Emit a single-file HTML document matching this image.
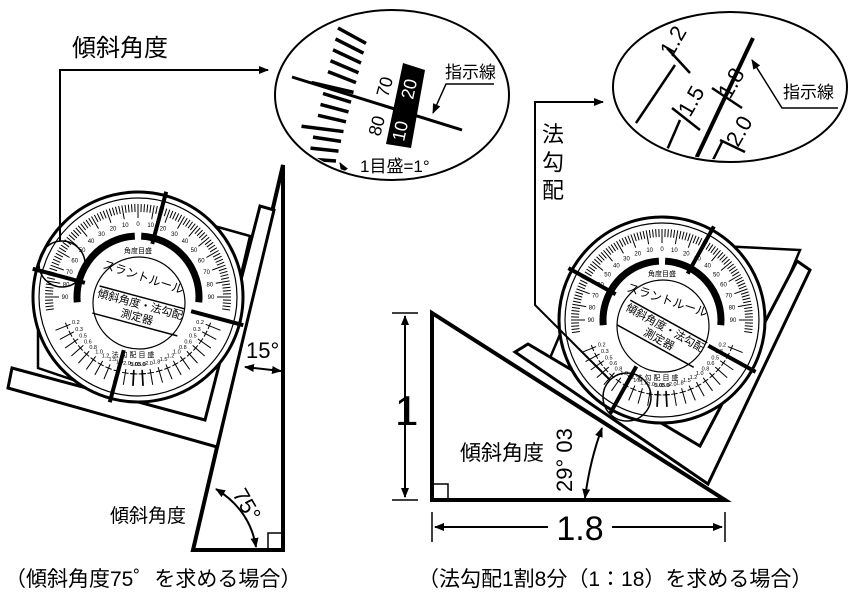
<!DOCTYPE html>
<html><head><meta charset="utf-8"><style>
html,body{margin:0;padding:0;background:#fff;}
svg{display:block;font-family:"Liberation Sans","Noto Sans CJK JP",sans-serif;}
</style></head><body>
<svg id="s" width="850" height="600" viewBox="0 0 850 600" xmlns="http://www.w3.org/2000/svg">
<defs>
<marker id="ar" markerWidth="10" markerHeight="8" refX="9" refY="4" orient="auto" markerUnits="userSpaceOnUse"><path d="M0,0 L10,4 L0,8 z" fill="#000"/></marker>
<marker id="ars" markerWidth="10" markerHeight="8" refX="1" refY="4" orient="auto" markerUnits="userSpaceOnUse"><path d="M10,0 L0,4 L10,8 z" fill="#000"/></marker>
<clipPath id="cl"><ellipse cx="392" cy="95" rx="115" ry="83"/></clipPath>
<clipPath id="cr"><ellipse cx="730" cy="87" rx="115" ry="73"/></clipPath>
</defs>
<g fill="none" stroke="#000" stroke-linejoin="miter">
<text x="72" y="56" font-size="24" fill="#000" stroke="none">傾斜角度</text>
<polygon points="283,165 283,550 193,550" stroke-width="4" fill="#fff"/>
<rect x="268" y="533" width="15" height="17" stroke-width="1.5"/>
<polygon points="38,368 38,320 200,222 250,236 206,425" fill="#fff" stroke-width="2.5"/>
<polygon points="12,368 205,420 260,206 274,210 217,447 8,388" fill="#fff" stroke-width="3"/>
<text x="246" y="358" font-size="22" fill="#000" stroke="none">15°</text>
<line x1="245" y1="367" x2="281" y2="371" stroke-width="2" marker-start="url(#ars)" marker-end="url(#ar)"/>
<path d="M216,489 Q250,510 256,547" stroke-width="2" marker-start="url(#ars)" marker-end="url(#ar)"/>
<text x="0" y="0" font-size="22" fill="#000" stroke="none" transform="translate(232,494) rotate(60)">75°</text>
<text x="110" y="522" font-size="19" fill="#000" stroke="none">傾斜角度</text>
<g id="dl"></g>
<circle cx="62" cy="264" r="23" stroke-width="1.5"/>
<polyline points="60,241 60,70 268,70" stroke-width="2" marker-end="url(#ar)"/>
<ellipse cx="392" cy="95" rx="117" ry="85" stroke-width="2" fill="#fff"/>
<g id="ml" clip-path="url(#cl)"></g>
<polygon points="432,313 432,500 725,500" stroke-width="4" fill="#fff"/>
<rect x="432" y="484" width="16" height="16" stroke-width="1.5"/>
<line x1="392" y1="313" x2="418" y2="313" stroke-width="1.5"/>
<line x1="392" y1="500" x2="418" y2="500" stroke-width="1.5"/>
<line x1="405" y1="316" x2="405" y2="497" stroke-width="2" marker-start="url(#ars)" marker-end="url(#ar)"/>
<text x="395" y="425" font-size="42" fill="#000" stroke="none">1</text>
<line x1="432" y1="512" x2="432" y2="542" stroke-width="1.5"/>
<line x1="725" y1="512" x2="725" y2="542" stroke-width="1.5"/>
<line x1="435" y1="527" x2="548" y2="527" stroke-width="2" marker-start="url(#ars)"/>
<line x1="612" y1="527" x2="722" y2="527" stroke-width="2" marker-end="url(#ar)"/>
<text x="580" y="540" font-size="34" fill="#000" stroke="none" text-anchor="middle">1.8</text>
<text x="460" y="460" font-size="21" fill="#000" stroke="none">傾斜角度</text>
<text x="0" y="0" font-size="22" fill="#000" stroke="none" transform="translate(572,492) rotate(-90)">29° 03</text>
<path d="M602,428 Q590,460 585,498" stroke-width="2" marker-start="url(#ars)" marker-end="url(#ar)"/>
<polygon points="550,358 600,240 800,250 705,478" fill="#fff" stroke-width="2.5"/>
<polygon points="515,352 528,344 700,446 797,261 810,270 708,484" fill="#fff" stroke-width="3"/>
<g id="dr"></g>
<circle cx="627" cy="397" r="24" stroke-width="1.5"/>
<polyline points="610,380 535,305 535,102 603,102" stroke-width="2" marker-end="url(#ar)"/>
<text x="542" y="142" font-size="22" fill="#000" stroke="none">法</text>
<text x="542" y="170" font-size="22" fill="#000" stroke="none">勾</text>
<text x="542" y="198" font-size="22" fill="#000" stroke="none">配</text>
<ellipse cx="730" cy="87" rx="117" ry="75" stroke-width="2" fill="#fff"/>
<g id="mr" clip-path="url(#cr)"></g>
<text x="5" y="586" font-size="21" fill="#000" stroke="none">（傾斜角度75゜を求める場合）</text>
<text x="418" y="586" font-size="21" fill="#000" stroke="none">（法勾配1割8分（1：18）を求める場合）</text>
</g>
<script>
var NS="http://www.w3.org/2000/svg";
function el(p,t,a,txt){var e=document.createElementNS(NS,t);for(var k in a)e.setAttribute(k,a[k]);if(txt!==undefined)e.textContent=txt;p.appendChild(e);return e;}
function pt(cx,cy,r,deg){var a=(deg-90)*Math.PI/180;return [cx+r*Math.cos(a),cy+r*Math.sin(a)];}
function dial(g,cx,cy,R,tilt){
 el(g,"circle",{cx:cx,cy:cy,r:R,fill:"#fff","stroke-width":3});
 el(g,"circle",{cx:cx,cy:cy,r:R-6,"stroke-width":1.2});
 for(var d=-98;d<=98;d+=2){var L=(d%10==0)?14:8;var a=pt(cx,cy,R-12,d),b=pt(cx,cy,R-12-L,d);el(g,"line",{x1:a[0],y1:a[1],x2:b[0],y2:b[1],"stroke-width":1});}
 for(var d=-90;d<=90;d+=10){var p=pt(cx,cy,R-32,d);el(g,"text",{x:p[0],y:p[1]+2,"font-size":6,"text-anchor":"middle",fill:"#000",stroke:"none"},String(Math.abs(d)));}
 function arc(r,a1,a2){var p=pt(cx,cy,r,a1),q=pt(cx,cy,r,a2);return "M"+p[0]+","+p[1]+" A"+r+","+r+" 0 0 1 "+q[0]+","+q[1];}
 el(g,"path",{d:arc(R-44,-95,-3),"stroke-width":7});
 el(g,"path",{d:arc(R-44,3,95),"stroke-width":7});
 el(g,"circle",{cx:cx+1,cy:cy+6,r:46,"stroke-width":1.2});
 el(g,"text",{x:cx,y:cy-44,"font-size":7,"text-anchor":"middle",fill:"#000",stroke:"none"},"角度目盛");
 el(g,"text",{x:0,y:0,"font-size":12,"text-anchor":"middle",fill:"#000",stroke:"none",transform:"translate("+(cx+4)+","+(cy-16)+") rotate(18)"},"スラントルール");
 var t=el(g,"g",{transform:"translate("+(cx+1)+","+(cy+12)+") rotate("+tilt+")"});
 el(t,"line",{x1:-44,y1:-12,x2:44,y2:-12,"stroke-width":1.5});
 el(t,"line",{x1:-44,y1:16,x2:44,y2:16,"stroke-width":1.5});
 el(t,"text",{x:0,y:-1,"font-size":11,"text-anchor":"middle",fill:"#000",stroke:"none"},"傾斜角度・法勾配");
 el(t,"text",{x:0,y:12,"font-size":11,"text-anchor":"middle",fill:"#000",stroke:"none"},"測定器");
 el(g,"text",{x:cx-5,y:cy+60,"font-size":7,"text-anchor":"middle",fill:"#000",stroke:"none"},"法 勾 配 目 盛");
 var labs=["0.2","0.3","0.5","0.6","0.8","1.0","1.2","1.5","1.8","2.0","3.0","5.0"];
 for(var i=0;i<12;i++){var dd=112+i*6.5;[dd,-dd].forEach(function(a){var p=pt(cx,cy,R-16,a),q=pt(cx,cy,R-32,a);el(g,"line",{x1:p[0],y1:p[1],x2:q[0],y2:q[1],"stroke-width":1});var n1=pt(cx,cy,R-28,a+2.5),n2=pt(cx,cy,R-28,a-2.5);el(g,"line",{x1:n1[0],y1:n1[1],x2:n2[0],y2:n2[1],"stroke-width":1});var tp=pt(cx,cy,R-38,a);el(g,"text",{x:tp[0],y:tp[1]+2,"font-size":5.5,"text-anchor":"middle",fill:"#000",stroke:"none"},labs[i]);});}
 function ln(r1,r2,ang){var a=ang*Math.PI/180;var ux=Math.cos(a),uy=Math.sin(a);el(g,"line",{x1:cx+ux*r1,y1:cy+uy*r1,x2:cx+ux*r2,y2:cy+uy*r2,"stroke-width":4});}
 ln(R-50,R+4,180+tilt);ln(R-50,R+4,tilt);ln(R-50,R+4,270+tilt);ln(R-50,R+4,90+tilt);
}
dial(document.getElementById("dl"),138,297,105,15);
dial(document.getElementById("dr"),662,320,103,29);
var ml=document.getElementById("ml");
for(var i=0;i<13;i++){var f=i/12;var x=338-30*f,y=28+131*f,sl=0.55-0.48*f;var L=(i==5||i==9)?42:28;
 el(ml,"line",{x1:x+28-L,y1:y,x2:x+28,y2:y+sl*28,"stroke-width":3.5});}
el(ml,"line",{x1:292,y1:77,x2:462,y2:130,"stroke-width":3});
el(ml,"text",{x:0,y:0,"font-size":18,fill:"#000",stroke:"none",transform:"translate(388,98) rotate(-75)"},"70");
el(ml,"text",{x:0,y:0,"font-size":18,fill:"#000",stroke:"none",transform:"translate(380,137) rotate(-75)"},"80");
el(ml,"polygon",{points:"403,63 425,70 411,148 386,144",fill:"#000",stroke:"none"});
el(ml,"text",{x:0,y:0,"font-size":18,fill:"#fff",stroke:"none",transform:"translate(413,100) rotate(-78)"},"20");
el(ml,"text",{x:0,y:0,"font-size":18,fill:"#fff",stroke:"none",transform:"translate(404,142) rotate(-78)"},"10");
el(ml,"text",{x:445,y:78,"font-size":17,fill:"#000",stroke:"none"},"指示線");
el(ml,"polyline",{points:"494,84 446,84 433,113","stroke-width":1.5,"marker-end":"url(#ar)"});
el(ml,"text",{x:360,y:172,"font-size":17,fill:"#000",stroke:"none"},"1目盛=1°");
el(ml,"polyline",{points:"430,180 350,180 340,163","stroke-width":1.5,"marker-end":"url(#ar)"});
var mr=document.getElementById("mr");
el(mr,"line",{x1:753,y1:38,x2:693,y2:165,"stroke-width":4});
el(mr,"line",{x1:675,y1:65,x2:636,y2:123,"stroke-width":2.5});
el(mr,"line",{x1:667,y1:48,x2:690,y2:73,"stroke-width":2.5});
el(mr,"text",{x:0,y:0,"font-size":22,fill:"#000",stroke:"none",transform:"translate(672,58) rotate(-60)"},"1.2");
el(mr,"line",{x1:680,y1:120,x2:667,y2:150,"stroke-width":2.5});
el(mr,"line",{x1:672,y1:108,x2:700,y2:130,"stroke-width":2.5});
el(mr,"text",{x:0,y:0,"font-size":22,fill:"#000",stroke:"none",transform:"translate(690,118) rotate(-60)"},"1.5");
el(mr,"line",{x1:712,y1:88,x2:742,y2:108,"stroke-width":2.5});
el(mr,"text",{x:0,y:0,"font-size":22,fill:"#000",stroke:"none",transform:"translate(730,100) rotate(-60)"},"1.8");
el(mr,"line",{x1:720,y1:140,x2:745,y2:152,"stroke-width":2.5});
el(mr,"line",{x1:722,y1:142,x2:712,y2:162,"stroke-width":2.5});
el(mr,"text",{x:0,y:0,"font-size":22,fill:"#000",stroke:"none",transform:"translate(738,148) rotate(-60)"},"2.0");
el(mr,"text",{x:783,y:98,"font-size":17,fill:"#000",stroke:"none"},"指示線");
el(mr,"polyline",{points:"838,108 782,108 752,60","stroke-width":1.5,"marker-end":"url(#ar)"});
</script>
</svg>
</body></html>
